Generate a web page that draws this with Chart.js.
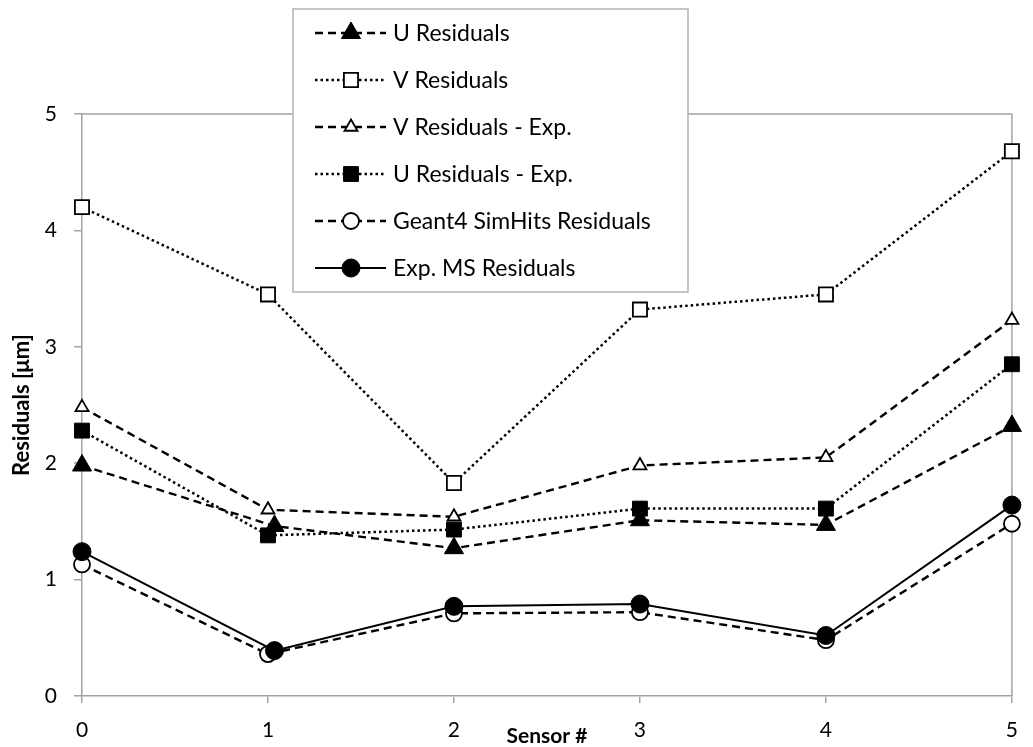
<!DOCTYPE html>
<html>
<head>
<meta charset="utf-8">
<title>Residuals per sensor</title>
<script src="https://cdn.jsdelivr.net/npm/chart.js@4.4.1/dist/chart.umd.min.js"></script>
<style>
  html, body { margin: 0; padding: 0; background: #ffffff; }
  #wrap { width: 1033px; height: 747px; }
</style>
</head>
<body>
<div id="wrap"><canvas id="chart"></canvas></div>
<script>
// Sensor positions (two series are plotted slightly to the right at sensor 1)
const sensors = [0, 1, 2, 3, 4, 5];
const sensorsShifted = [0, 1.035, 2, 3, 4, 5];

// Series names, in legend order
const seriesNames = [
  'U Residuals',
  'V Residuals',
  'V Residuals - Exp.',
  'U Residuals - Exp.',
  'Geant4 SimHits Residuals',
  'Exp. MS Residuals'
];

// Residuals in µm per sensor
const uResiduals    = [1.98, 1.46, 1.27, 1.51, 1.47, 2.32];
const vResiduals    = [4.20, 3.45, 1.83, 3.32, 3.45, 4.68];
const vResidualsExp = [2.48, 1.60, 1.54, 1.98, 2.05, 3.23];
const uResidualsExp = [2.28, 1.38, 1.43, 1.61, 1.61, 2.85];
const geant4SimHits = [1.13, 0.36, 0.71, 0.72, 0.48, 1.48];
const expMS         = [1.24, 0.39, 0.77, 0.79, 0.52, 1.64];

// Axis ticks
const xTicks = [0, 1, 2, 3, 4, 5];
const yTicks = [0, 1, 2, 3, 4, 5];

const FONT = 'Lato, "Open Sans", "DejaVu Sans", sans-serif';
const AXIS_GREY = '#a3a3a3';
const DASH = [8, 5];
const DOT = [2.5, 3];

function pairs(xs, ys) {
  return xs.map((x, i) => ({ x: x, y: ys[i] }));
}

function series(i, xs, ys, dash, lineWidth, style, radius, filled) {
  return {
    label: seriesNames[i],
    data: pairs(xs, ys),
    showLine: true,
    borderColor: '#000000',
    borderWidth: lineWidth,
    borderDash: dash,
    pointStyle: style,
    pointRadius: radius,
    pointHoverRadius: radius,
    pointBackgroundColor: filled ? '#000000' : '#ffffff',
    pointBorderColor: '#000000',
    pointBorderWidth: filled ? 1 : 1.8,
    clip: false,
    order: seriesNames.length - 1 - i
  };
}

const datasets = [
  series(0, sensorsShifted, uResiduals,    DASH, 2.4, 'triangle', 11,  true),
  series(1, sensors,        vResiduals,    DOT,  2.5, 'rect',     10,  false),
  series(2, sensors,        vResidualsExp, DASH, 2.4, 'triangle', 7.5, false),
  series(3, sensors,        uResidualsExp, DOT,  2.5, 'rect',     10.5, true),
  series(4, sensors,        geant4SimHits, DASH, 2.4, 'circle',   8,   false),
  series(5, sensorsShifted, expMS,         [],   2,   'circle',   9,   true)
];

// Top and right border of the plot area
const frame = {
  id: 'frame',
  beforeDatasetsDraw(chart) {
    const { ctx, chartArea: a } = chart;
    ctx.save();
    ctx.strokeStyle = AXIS_GREY;
    ctx.lineWidth = 1.5;
    ctx.beginPath();
    ctx.moveTo(a.left, a.top);
    ctx.lineTo(a.right, a.top);
    ctx.lineTo(a.right, a.bottom);
    ctx.stroke();
    ctx.restore();
  }
};

// Boxed legend with line samples and markers
const boxedLegend = {
  id: 'boxedLegend',
  afterDraw(chart) {
    const { ctx } = chart;
    const box = { left: 293, top: 9, right: 688, bottom: 292 };
    const firstRow = 33, rowGap = 47;
    const lineFrom = 315, lineTo = 386, markerX = 351, textX = 393;
    ctx.save();
    ctx.setLineDash([]);
    ctx.fillStyle = '#ffffff';
    ctx.fillRect(box.left, box.top, box.right - box.left, box.bottom - box.top);
    ctx.strokeStyle = '#b3b3b3';
    ctx.lineWidth = 1.5;
    ctx.strokeRect(box.left, box.top, box.right - box.left, box.bottom - box.top);

    chart.data.datasets.forEach((ds, i) => {
      const y = firstRow + i * rowGap;
      ctx.strokeStyle = ds.borderColor;
      ctx.lineWidth = ds.borderWidth;
      ctx.setLineDash(ds.borderDash);
      ctx.beginPath();
      ctx.moveTo(lineFrom, y);
      ctx.lineTo(lineTo, y);
      ctx.stroke();

      ctx.setLineDash([]);
      ctx.fillStyle = ds.pointBackgroundColor;
      ctx.strokeStyle = ds.pointBorderColor;
      ctx.lineWidth = ds.pointBorderWidth;
      Chart.helpers.drawPoint(ctx, {
        pointStyle: ds.pointStyle,
        rotation: 0,
        radius: ds.pointRadius,
        borderWidth: ds.pointBorderWidth
      }, markerX, y);

      ctx.fillStyle = '#000000';
      ctx.font = '23px ' + FONT;
      ctx.textAlign = 'left';
      ctx.textBaseline = 'middle';
      ctx.fillText(ds.label, textX, y + 1);
    });
    ctx.restore();
  }
};

new Chart(document.getElementById('chart'), {
  type: 'scatter',
  data: { datasets: datasets },
  plugins: [frame, boxedLegend],
  options: {
    responsive: true,
    maintainAspectRatio: false,
    animation: false,
    events: [],
    layout: { padding: { top: 114, right: 10, bottom: 0, left: 0 } },
    plugins: {
      legend: { display: false },
      tooltip: { enabled: false },
      title: { display: false }
    },
    scales: {
      x: {
        type: 'linear',
        min: xTicks[0],
        max: xTicks[xTicks.length - 1],
        afterBuildTicks: s => { s.ticks = xTicks.map(v => ({ value: v })); },
        afterFit: s => { s.height = 51; },
        ticks: {
          padding: 15,
          color: '#000000',
          font: { family: FONT, size: 21 }
        },
        grid: {
          drawOnChartArea: false,
          drawTicks: true,
          tickLength: 7,
          color: AXIS_GREY,
          lineWidth: 1.5
        },
        border: { color: AXIS_GREY, width: 1.5 },
        title: {
          display: true,
          text: 'Sensor #',
          color: '#000000',
          font: { family: FONT, size: 21, weight: 'bold' },
          padding: { top: 0, bottom: -2 }
        }
      },
      y: {
        type: 'linear',
        min: yTicks[0],
        max: yTicks[yTicks.length - 1],
        afterBuildTicks: s => { s.ticks = yTicks.map(v => ({ value: v })); },
        afterFit: s => { s.width = 82; },
        ticks: {
          padding: 17,
          color: '#000000',
          font: { family: FONT, size: 21 }
        },
        grid: {
          drawOnChartArea: false,
          drawTicks: true,
          tickLength: 8,
          color: AXIS_GREY,
          lineWidth: 1.5
        },
        border: { color: AXIS_GREY, width: 1.5 },
        title: {
          display: true,
          text: 'Residuals [μm]',
          color: '#000000',
          font: { family: FONT, size: 22, weight: 'bold' },
          padding: { top: 9, bottom: 0 }
        }
      }
    }
  }
});
</script>
</body>
</html>
